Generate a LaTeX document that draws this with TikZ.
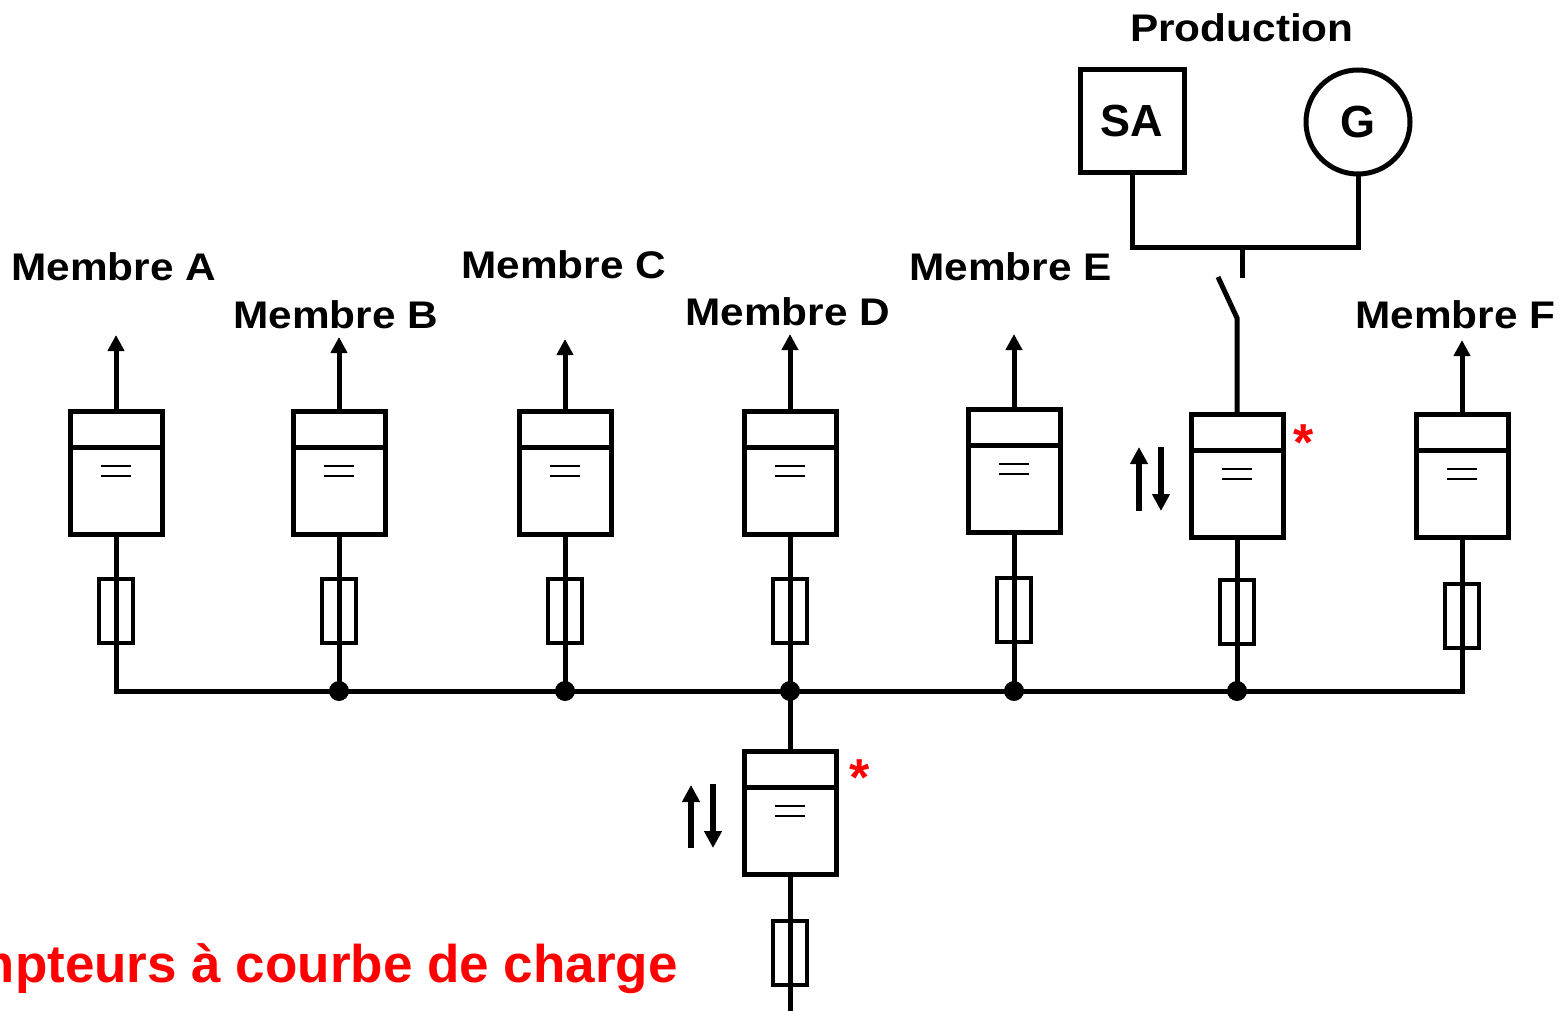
\documentclass[tikz,border=0pt]{standalone}
\usepackage{fontspec}
\setmainfont{Liberation Sans}
\usepackage{graphicx}
\usetikzlibrary{arrows.meta}
\definecolor{redx}{RGB}{255,0,0}
\tikzset{
  wire/.style={line width=5pt},
  meterbox/.style={draw,line width=5pt,minimum width=92pt,minimum height=123pt,inner sep=0pt,anchor=north},
  fusebox/.style={draw,line width=4.5pt,minimum width=34pt,minimum height=64pt,inner sep=0pt},
  eqline/.style={line width=2.5pt},
  outarrow/.style={wire,-{Triangle[width=16pt,length=16pt]}},
  biarrow/.style={line width=5.5pt,-{Triangle[width=17pt,length=17pt]}},
  junction/.style={circle,fill,inner sep=0pt,minimum size=20pt},
  lbl/.style={anchor=base west,inner sep=0pt,font=\bfseries\fontsize{38.5}{40}\selectfont},
  redstar/.style={anchor=base,inner sep=0pt,text=redx,font=\bfseries\fontsize{52}{54}\selectfont},
}
% name, center x, top y, fuse top y, arrow tip y
\newcommand\compteur[5]{%
  \node[meterbox] (#1) at (#2,#3) {};
  \draw[wire] ([yshift=-38pt]#1.north west) -- ([yshift=-38pt]#1.north east);
  \draw[eqline] ([xshift=-15pt,yshift=-57pt]#1.north) -- ([xshift=15pt,yshift=-57pt]#1.north);
  \draw[eqline] ([xshift=-15pt,yshift=-67pt]#1.north) -- ([xshift=15pt,yshift=-67pt]#1.north);
  \node[fusebox] (f#1) at (#2,#4+32) {};
  \coordinate (b#1) at (#2,691);
  \coordinate (t#1) at (#2,#5);
}
\begin{document}
\begin{tikzpicture}[x=1pt,y=-1pt]
\useasboundingbox (0,0) rectangle (1567,1011);

% members
\compteur{A}{116}{409}{579}{335}
\compteur{B}{339}{409}{579}{337}
\compteur{C}{565}{409}{579}{339}
\compteur{D}{790}{409}{579}{334}
\compteur{E}{1014}{407}{578}{334}
\compteur{P}{1237}{412}{580}{0}
\compteur{F}{1462}{412}{584}{340}
\compteur{M}{790}{749}{921}{0}

% outgoing arrows
\foreach \n in {A,B,C,D,E,F}{
  \draw[outarrow] (\n.north) -- (t\n);
}

% bus
\draw[wire] (A.south) -- (bA) -- (bF) -- (F.south);
\foreach \n in {B,C,D,E,P}{
  \draw[wire] (\n.south) -- (b\n);
  \node[junction] (j\n) at (b\n) {};
}

% bottom (main) meter
\coordinate (feed) at (790,1011);
\draw[wire] (bD) -- (M.north);
\draw[wire] (M.south) -- (feed);

% production
\node[draw,line width=5pt,minimum width=104pt,minimum height=103pt,inner sep=0pt,
      font=\bfseries\fontsize{45}{47}\selectfont] (SA) at (1132,121.5) {SA};
\node[draw,circle,line width=5pt,minimum size=104pt,inner sep=0pt,
      font=\bfseries\fontsize{45}{47}\selectfont] (G) at (1358,122) {G};
\node[lbl] (prod) at (1130,42) {\scalebox{1.1}[1]{Production}};
\coordinate (jSA) at (1132,248);
\coordinate (jG) at (1358,248);
\coordinate (stubT) at (1242,248);
\coordinate (stubB) at (1242,278);
\coordinate (swLow) at (1237,318);
\coordinate (swHigh) at (1218,277);
\draw[wire] (SA.south) -- (jSA) -- (jG) -- (G.south);
\draw[wire] (stubT) -- (stubB);
\draw[wire] (P.north) -- (swLow) -- (swHigh);

% bidirectional arrows
\coordinate (mUp1) at (691,848);  \coordinate (mUp2) at (691,785);
\coordinate (mDn1) at (713,784);  \coordinate (mDn2) at (713,848);
\coordinate (pUp1) at (1139,511); \coordinate (pUp2) at (1139,447);
\coordinate (pDn1) at (1161,447); \coordinate (pDn2) at (1161,511);
\draw[biarrow] (mUp1) -- (mUp2);
\draw[biarrow] (mDn1) -- (mDn2);
\draw[biarrow] (pUp1) -- (pUp2);
\draw[biarrow] (pDn1) -- (pDn2);

% red stars
\node[redstar] (starM) at (860,795) {*};
\node[redstar] (starP) at (1304,460) {*};

% labels
\node[lbl] (lA) at (11,280)  {\scalebox{1.1}[1]{Membre A}};
\node[lbl] (lB) at (233,328) {\scalebox{1.1}[1]{Membre B}};
\node[lbl] (lC) at (461,279) {\scalebox{1.1}[1]{Membre C}};
\node[lbl] (lD) at (685,325) {\scalebox{1.1}[1]{Membre D}};
\node[lbl] (lE) at (909,280) {\scalebox{1.1}[1]{Membre E}};
\node[lbl] (lF) at (1355,328) {\scalebox{1.1}[1]{Membre F}};

\node[anchor=base east,inner sep=0pt,text=redx,font=\bfseries\fontsize{53}{55}\selectfont]
  (legend) at (678,982) {Compteurs à courbe de charge};
\end{tikzpicture}
\end{document}
